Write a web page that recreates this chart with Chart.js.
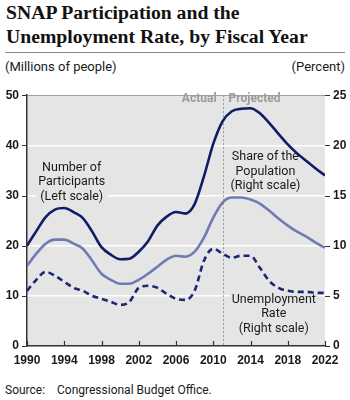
<!DOCTYPE html>
<html>
<head>
<meta charset="utf-8">
<script src="https://cdn.jsdelivr.net/npm/chart.js@4.4.1/dist/chart.umd.min.js"></script>
<style>
  body { margin: 0; width: 350px; height: 400px; background: #fff; position: relative; overflow: hidden;
         font-family: Roboto, "Liberation Sans", sans-serif; color: #1a1a1a; }
  #title { position: absolute; left: 6px; top: 0; font: bold 19.7px/24px "Liberation Serif", serif; color: #111; white-space: nowrap; }
  #rule { position: absolute; left: 5px; top: 52px; width: 340px; height: 1px; background: #8a8a8a; }
  .unit { position: absolute; top: 60px; font-size: 13px; line-height: 14px; }
  #source { position: absolute; left: 5px; top: 383px; font-size: 12px; line-height: 14px; white-space: nowrap; }
  #source span { display: inline-block; width: 52px; }
  canvas { position: absolute; left: 0; top: 80px; }
</style>
</head>
<body>
<div id="title">SNAP Participation and the<br>Unemployment Rate, by Fiscal Year</div>
<div id="rule"></div>
<div class="unit" style="left:5px">(Millions of people)</div>
<div class="unit" style="right:5px">(Percent)</div>
<canvas id="chart" width="350" height="290"></canvas>
<div id="source"><span>Source:</span>Congressional Budget Office.</div>
<script>
// Fiscal years and the three series.
const years = [1990, 1991, 1992, 1993, 1994, 1995, 1996, 1997, 1998, 1999, 2000,
  2001, 2002, 2003, 2004, 2005, 2006, 2007, 2008, 2009, 2010, 2011,
  2012, 2013, 2014, 2015, 2016, 2017, 2018, 2019, 2020, 2021, 2022];
// millions of people (left scale)
const participants = [20.0, 22.9, 25.7, 27.2, 27.5, 26.7, 25.5, 22.8, 19.7, 18.2, 17.3,
  17.4, 18.8, 20.9, 24.0, 25.8, 26.7, 26.4, 28.3, 33.8, 40.3, 44.8,
  46.8, 47.3, 47.4, 46.4, 44.5, 42.3, 40.2, 38.4, 36.9, 35.4, 34.0];
// percent of population (right scale)
const sharePop = [8.0, 9.2, 10.2, 10.6, 10.6, 10.2, 9.7, 8.5, 7.2, 6.6, 6.2,
  6.2, 6.6, 7.2, 7.9, 8.6, 9.0, 8.9, 9.4, 10.8, 12.8, 14.3,
  14.8, 14.8, 14.6, 14.2, 13.5, 12.7, 12.0, 11.4, 10.9, 10.3, 9.8];
// unemployment rate, percent (right scale)
const unemployment = [5.5, 6.6, 7.4, 7.0, 6.4, 5.8, 5.5, 5.0, 4.7, 4.4, 4.1,
  4.4, 5.8, 6.0, 5.8, 5.2, 4.7, 4.6, 5.5, 8.5, 9.7, 9.2,
  8.8, 9.0, 9.0, 7.8, 6.5, 5.8, 5.5, 5.4, 5.4, 5.3, 5.3];

const yearTicks = [1990, 1994, 1998, 2002, 2006, 2010, 2014, 2018, 2022];
const leftTicks = [0, 10, 20, 30, 40, 50];
const rightTicks = [0, 5, 10, 15, 20, 25];
const projectionStart = 2011;

const NAVY = '#101c66';
const LIGHT = '#6f7bb3';
const DASH = '#1a2774';
const PLOT_BG = '#e5e5e5';
const FONT = 'Roboto, "Liberation Sans", sans-serif';
const TICK_FONT = '"Liberation Sans", Arial, sans-serif';

const series = (values) => years.map((yr, i) => ({ x: yr, y: values[i] }));
const fixTicks = (list) => (scale) => { scale.ticks = list.map((v) => ({ value: v })); };

// Gray plot panel behind the grid.
const panel = {
  id: 'panel',
  beforeDraw(chart) {
    const { ctx, chartArea: a } = chart;
    ctx.save();
    ctx.fillStyle = PLOT_BG;
    ctx.fillRect(a.left, a.top, a.right - a.left, a.bottom - a.top);
    ctx.restore();
  },
};

// In-plot notes: boxes hide the white grid behind the text.
const notes = [
  { lines: ['Number of', 'Participants', '(Left scale)'], x: 1994.8, y: 35.6, axis: 'y' },
  { lines: ['Share of the', 'Population', '(Right scale)'], x: 2015.6, y: 18.85, axis: 'y1' },
  { lines: ['Unemployment', 'Rate', '(Right scale)'], x: 2016.5, y: 4.6, axis: 'y1' },
];
const LINE_H = 14.5;

const annotate = {
  id: 'annotate',
  beforeDatasetsDraw(chart) {
    const { ctx, chartArea: a, scales } = chart;
    const x = scales.x.getPixelForValue(projectionStart);
    ctx.save();
    ctx.strokeStyle = '#9a9a9a';
    ctx.lineWidth = 1;
    ctx.setLineDash([2, 2]);
    ctx.beginPath();
    ctx.moveTo(Math.round(x) + 0.5, a.top);
    ctx.lineTo(Math.round(x) + 0.5, a.bottom);
    ctx.stroke();
    ctx.setLineDash([]);
    ctx.font = `12.5px ${FONT}`;
    ctx.fillStyle = PLOT_BG;
    for (const n of notes) {
      const cx = scales.x.getPixelForValue(n.x);
      const cy = scales[n.axis].getPixelForValue(n.y);
      const w = Math.max(...n.lines.map((l) => ctx.measureText(l).width)) + 4;
      ctx.fillRect(cx - w / 2, cy - LINE_H / 2, w, LINE_H * n.lines.length);
    }
    ctx.restore();
  },
  afterDatasetsDraw(chart) {
    const { ctx, chartArea: a, scales } = chart;
    const x = scales.x.getPixelForValue(projectionStart);
    ctx.save();
    ctx.textBaseline = 'middle';
    ctx.font = `bold 12px ${FONT}`;
    ctx.fillStyle = '#9b9b9b';
    ctx.textAlign = 'right';
    ctx.fillText('Actual', x - 6, a.top + 4);
    ctx.textAlign = 'left';
    ctx.fillText('Projected', x + 6, a.top + 4);
    ctx.font = `12.5px ${FONT}`;
    ctx.fillStyle = '#1a1a1a';
    ctx.textAlign = 'center';
    for (const n of notes) {
      const cx = scales.x.getPixelForValue(n.x);
      const cy = scales[n.axis].getPixelForValue(n.y);
      n.lines.forEach((l, i) => ctx.fillText(l, cx, cy + i * LINE_H));
    }
    ctx.restore();
  },
};

// Short tick marks: out on the left, up from the baseline, out on the right.
const tickMarks = {
  id: 'tickMarks',
  afterDraw(chart) {
    const { ctx, chartArea: a, scales } = chart;
    ctx.save();
    ctx.strokeStyle = '#333';
    ctx.lineWidth = 1.2;
    ctx.beginPath();
    for (const v of leftTicks) {
      const y = Math.round(scales.y.getPixelForValue(v)) + 0.5;
      ctx.moveTo(a.left - 5, y); ctx.lineTo(a.left, y);
    }
    for (const v of rightTicks) {
      const y = Math.round(scales.y1.getPixelForValue(v)) + 0.5;
      ctx.moveTo(a.right, y); ctx.lineTo(a.right + 5, y);
    }
    for (const v of yearTicks) {
      const x = Math.round(scales.x.getPixelForValue(v)) + 0.5;
      ctx.moveTo(x, a.bottom); ctx.lineTo(x, a.bottom - 5);
    }
    ctx.stroke();
    ctx.restore();
  },
};

const tickFont = { family: TICK_FONT, size: 12, weight: 'bold' };

new Chart(document.getElementById('chart'), {
  type: 'line',
  data: {
    datasets: [
      { label: 'Number of Participants', data: series(participants), yAxisID: 'y',
        borderColor: NAVY, borderWidth: 2.6 },
      { label: 'Share of the Population', data: series(sharePop), yAxisID: 'y1',
        borderColor: LIGHT, borderWidth: 2.6 },
      { label: 'Unemployment Rate', data: series(unemployment), yAxisID: 'y1',
        borderColor: DASH, borderWidth: 2.6, borderDash: [6, 4] },
    ],
  },
  options: {
    responsive: false,
    animation: false,
    events: [],
    layout: { padding: { top: 10 } },
    elements: { point: { radius: 0 }, line: { tension: 0.3, cubicInterpolationMode: 'monotone' } },
    plugins: { legend: { display: false }, tooltip: { enabled: false } },
    scales: {
      x: {
        type: 'linear', min: 1990, max: 2022,
        afterBuildTicks: fixTicks(yearTicks),
        afterFit: (s) => { s.height = 24; },
        grid: { display: false, drawTicks: false },
        border: { color: '#333', width: 1.5 },
        ticks: { font: tickFont, color: '#1a1a1a', padding: 7, autoSkip: false, maxRotation: 0,
                 callback: (v) => String(v) },
      },
      y: {
        position: 'left', min: 0, max: 50,
        afterBuildTicks: fixTicks(leftTicks),
        afterFit: (s) => { s.width = 27; },
        grid: {
          drawTicks: false,
          color: (c) => (c.tick.value === 50 ? '#a0a0a0' : c.tick.value === 0 ? 'rgba(0,0,0,0)' : '#ffffff'),
          lineWidth: (c) => (c.tick.value === 50 ? 1 : 1.5),
        },
        border: { color: '#333', width: 1.5 },
        ticks: { font: tickFont, color: '#1a1a1a', padding: 8 },
      },
      y1: {
        position: 'right', min: 0, max: 25,
        afterBuildTicks: fixTicks(rightTicks),
        afterFit: (s) => { s.width = 25; },
        grid: { display: false, drawTicks: false },
        border: { display: false },
        ticks: { font: tickFont, color: '#1a1a1a', padding: 8 },
      },
    },
  },
  plugins: [panel, annotate, tickMarks],
});
</script>
</body>
</html>
